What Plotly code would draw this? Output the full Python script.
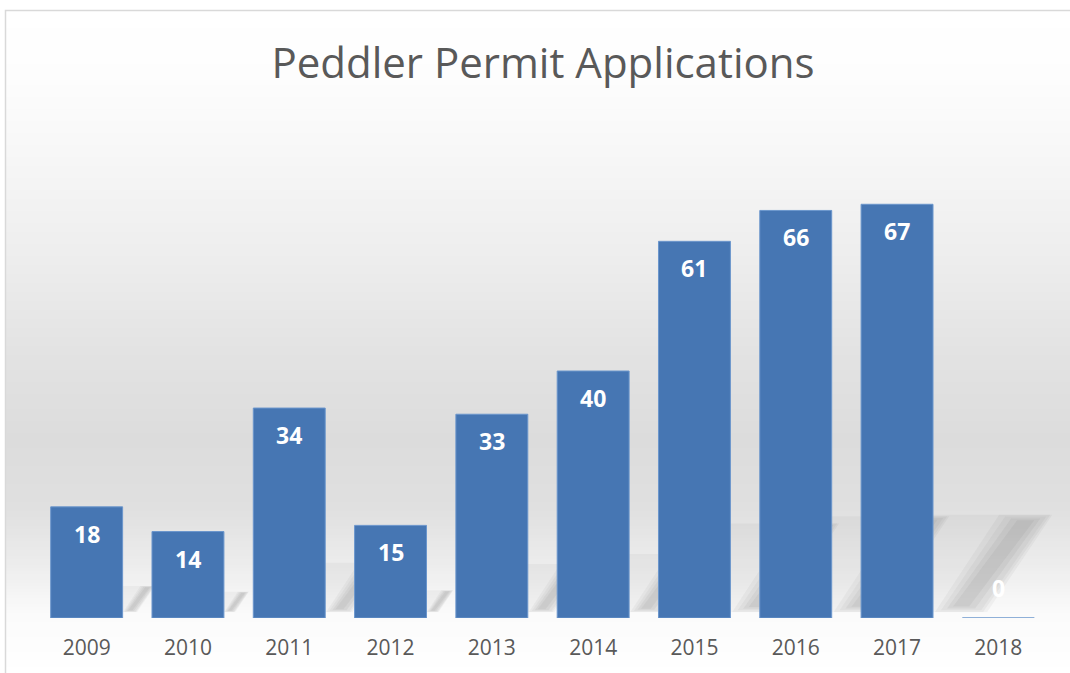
import plotly.graph_objects as go

years = ["2009", "2010", "2011", "2012", "2013", "2014", "2015", "2016", "2017", "2018"]
applications = [18, 14, 34, 15, 33, 40, 61, 66, 67, 0]

W, H = 1070, 673
ML, MR, MT, MB = 36, 21, 124, 55
PW, PH = W - ML - MR, H - MT - MB
N = len(years)
BARGAP = 0.29
YMAX = 80

def py(p):  # screen pixel y -> paper y
    return (H - MB - p) / PH

def px(p):  # screen pixel x -> paper x
    return (p - ML) / PW

# background gradient stops (pixel y, grey level)
stops = [(10, 255), (80, 253), (150, 247), (250, 238), (350, 227), (440, 220),
         (510, 224), (570, 238), (615, 251), (673, 255)]

def grey_at(y):
    for (y0, g0), (y1, g1) in zip(stops, stops[1:]):
        if y0 <= y <= y1:
            t = (y - y0) / (y1 - y0)
            return g0 + (g1 - g0) * t
    return 255

shapes = []
step = 3
y = 10
while y < H + 5:
    g = int(round(grey_at(y + step / 2)))
    shapes.append(dict(type="rect", xref="paper", yref="paper", layer="below",
                       x0=px(6), x1=px(1075), y0=py(y + step), y1=py(y),
                       line=dict(width=0), fillcolor=f"rgb({g},{g},{g})"))
    y += step

# soft perspective shadows cast up-right behind each bar
slot = PW / N
half = slot * (1 - BARGAP) / 2
base = H - MB
xmax = ML + PW + 4

def poly(pts, alpha):
    path = "M " + " L ".join(f"{px(min(x, xmax)):.5f},{py(yy):.5f}" for x, yy in pts) + " Z"
    return dict(type="path", xref="paper", yref="paper", layer="below",
                path=path, line=dict(width=0), fillcolor=f"rgba(70,70,70,{alpha})")

for i, v in enumerate(applications):
    if v <= 0:
        continue
    hbar = v / YMAX * PH
    hs = 0.235 * hbar
    k = hs / 97.0
    c = ML + (i + 0.5) * slot
    L, R = c - half, c + half
    yb = base - 6
    yt = yb - hs
    # faint body of the shadow
    shapes.append(poly([(L, yb), (R + 50 * k, yb), (R + 117 * k, yt), (L + 70 * k, yt)], 0.05))
    # darker soft band along the far edge, built from nested layers
    for j, a in enumerate([0.05, 0.05, 0.06, 0.06]):
        d = j * 6 * k
        shapes.append(poly([(R + (2 + d) * k if False else R + 2 * k + d, yb - d * 0.3),
                            (R + 54 * k - d, yb - d * 0.3),
                            (R + 119 * k - d, yt + d * 0.3),
                            (R + 66 * k + d, yt + d * 0.3)], a))

# chart border
shapes.append(dict(type="rect", xref="paper", yref="paper", layer="below",
                   x0=px(5.5), x1=px(1080), y0=py(690), y1=py(10.5),
                   line=dict(color="#d9d9d9", width=1.5), fillcolor="rgba(0,0,0,0)"))

fig = go.Figure()
fig.add_trace(go.Bar(
    x=years, y=applications,
    marker=dict(color="#4676b3", line=dict(color="#6b96cc", width=1)),
    hoverinfo="x+y",
))

annotations = []
for i, v in enumerate(applications):
    annotations.append(dict(x=i, y=v, xref="x", yref="y", text=f"<b>{v}</b>",
                            showarrow=False, yshift=-27 if v > 0 else 30,
                            font=dict(family="Open Sans", size=23, color="white")))

fig.update_layout(
    width=W, height=H,
    margin=dict(l=ML, r=MR, t=MT, b=MB),
    paper_bgcolor="white",
    plot_bgcolor="rgba(0,0,0,0)",
    title=dict(text="Peddler Permit Applications", x=543 / W,
               xanchor="center", y=1 - 63 / H, yanchor="middle",
               font=dict(family="Open Sans", size=42, color="#595959")),
    bargap=BARGAP,
    xaxis=dict(type="category", range=[-0.5, N - 0.5], showgrid=False,
               zeroline=False, showline=False, ticks="",
               tickfont=dict(family="Open Sans", size=21, color="#595959"),
               ticklabelstandoff=15),
    yaxis=dict(range=[0, YMAX], visible=False),
    shapes=shapes,
    annotations=annotations,
    showlegend=False,
)

fig.write_html("out.html", config={"displayModeBar": False},
               post_script="document.body.style.margin='0';")
